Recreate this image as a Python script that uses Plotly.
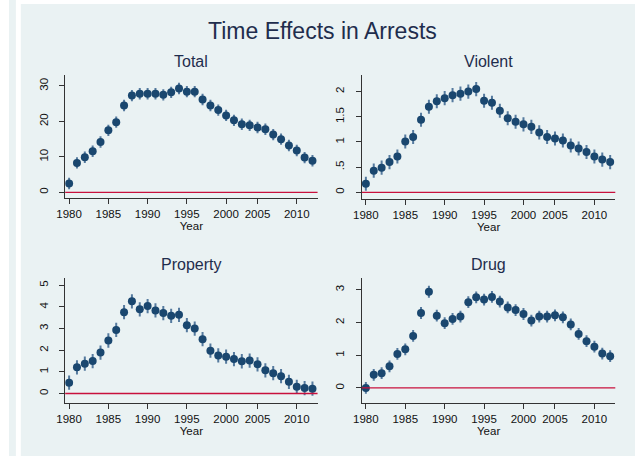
import plotly.graph_objects as go

# years in the panel (one year between 2000 and 2005 is absent from the series)
years = list(range(1980, 2003)) + list(range(2004, 2013))
tick_years = [1980, 1985, 1990, 1995, 2000, 2005, 2010]

total = [2.5, 8.3, 9.9, 11.6, 14.2, 17.5, 19.8, 24.5, 27.3, 27.8, 27.8, 27.8,
         27.5, 28.2, 29.3, 28.4, 28.4, 26.2, 24.5, 23.2, 21.7, 20.3, 19.2, 18.9,
         18.3, 17.8, 16.3, 15.0, 13.2, 11.8, 9.8, 8.9]
violent = [0.17, 0.43, 0.49, 0.60, 0.71, 1.01, 1.10, 1.44, 1.70, 1.81, 1.87, 1.93,
           1.96, 2.00, 2.05, 1.82, 1.78, 1.62, 1.47, 1.40, 1.35, 1.30, 1.19, 1.10,
           1.07, 1.03, 0.93, 0.87, 0.80, 0.71, 0.65, 0.60]
prop = [0.50, 1.21, 1.38, 1.50, 1.89, 2.45, 2.94, 3.76, 4.26, 3.89, 4.04, 3.84,
        3.72, 3.59, 3.64, 3.16, 3.00, 2.51, 1.98, 1.76, 1.70, 1.59, 1.49, 1.52,
        1.35, 1.07, 0.94, 0.80, 0.54, 0.31, 0.25, 0.22]
drug = [0.00, 0.40, 0.45, 0.66, 1.04, 1.18, 1.59, 2.29, 2.94, 2.21, 1.98, 2.11,
        2.18, 2.62, 2.77, 2.70, 2.78, 2.64, 2.46, 2.38, 2.26, 2.06, 2.18, 2.18,
        2.22, 2.16, 1.94, 1.65, 1.43, 1.26, 1.05, 0.97]

# half-width of the confidence spikes, per panel
ci = {"Total": 1.6, "Violent": 0.14, "Property": 0.33, "Drug": 0.18}

panels = [
    ("Total", total, [0, 10, 20, 30], ["0", "10", "20", "30"], [-1.6, 33.1]),
    ("Violent", violent, [0, 0.5, 1, 1.5, 2], ["0", ".5", "1", "1.5", "2"], [-0.133, 2.33]),
    ("Property", prop, [0, 1, 2, 3, 4, 5], ["0", "1", "2", "3", "4", "5"], [-0.44, 5.34]),
    ("Drug", drug, [0, 1, 2, 3], ["0", "1", "2", "3"], [-0.46, 3.36]),
]

W, H = 635, 456
boxes = [(57, 313, 75, 198), (358, 615, 75, 199), (57, 313, 278, 403), (358, 615, 278, 403)]

bg = "#eaf2f3"
navy = "#1a476f"
spike = "#557a9e"
axcol = "#333333"
font = "Liberation Sans, Arial, sans-serif"

xpos = list(range(len(years)))
tickpos = [years.index(y) for y in tick_years]

fig = go.Figure()
layout = {}
for k, (name, vals, yt, ytt, yr) in enumerate(panels):
    n = "" if k == 0 else str(k + 1)
    x0, x1, yt0, yb0 = boxes[k]
    fig.add_trace(go.Scatter(
        x=xpos, y=vals, mode="markers",
        marker=dict(color=navy, size=8),
        error_y=dict(type="constant", value=ci[name], color=spike, thickness=2, width=0),
        xaxis="x" + n, yaxis="y" + n, showlegend=False,
        hovertext=[str(y) for y in years],
    ))
    layout["xaxis" + n] = dict(
        domain=[x0 / W, x1 / W], anchor="y" + n, range=[-0.5, 31.65],
        tickvals=tickpos, ticktext=[str(y) for y in tick_years],
        showgrid=False, zeroline=False, showline=True, linecolor=axcol, linewidth=1,
        ticks="outside", ticklen=5, tickcolor=axcol,
        tickfont=dict(size=11.5, color="#111111", family=font),
        title=dict(text="Year", font=dict(size=11.5, color="#111111", family=font), standoff=1),
    )
    layout["yaxis" + n] = dict(
        domain=[1 - yb0 / H, 1 - yt0 / H], anchor="x" + n, range=yr,
        tickvals=yt, ticktext=ytt, tickangle=-90, ticklabelstandoff=7,
        showgrid=True, gridcolor=bg, gridwidth=1,
        zeroline=False, showline=True, linecolor=axcol, linewidth=1,
        ticks="outside", ticklen=5, tickcolor=axcol,
        tickfont=dict(size=11.5, color="#111111", family=font),
    )
    fig.add_shape(type="line", xref="x" + n + " domain", yref="y" + n,
                  x0=0, x1=1, y0=0, y1=0, line=dict(color="#c8103c", width=1.3))

# subplot titles
title_y = [62, 62, 264, 264]
annotations = []
for k, (name, *_rest) in enumerate(panels):
    x0, x1, _, _ = boxes[k]
    annotations.append(dict(
        text=name, x=(x0 + x1) / 2 / W, y=1 - title_y[k] / H, xref="paper", yref="paper",
        showarrow=False, xanchor="center", yanchor="middle",
        font=dict(size=16, color="#1f2d4d", family=font),
    ))
annotations.append(dict(
    text="Time Effects in Arrests", x=0.5, y=1 - 31 / H, xref="paper", yref="paper",
    showarrow=False, xanchor="center", yanchor="middle",
    font=dict(size=23, color="#1f2d4d", family=font),
))

# Stata-style background panels
shapes = [
    dict(type="rect", xref="paper", yref="paper", x0=0, x1=7 / W, y0=0, y1=1,
         fillcolor=bg, line=dict(width=0), layer="below"),
    dict(type="rect", xref="paper", yref="paper", x0=12 / W, x1=1, y0=0, y1=1 - 4 / H,
         fillcolor=bg, line=dict(width=0), layer="below"),
]
for s in shapes:
    fig.add_shape(**s)

fig.update_layout(
    width=W, height=H, margin=dict(l=0, r=0, t=0, b=0),
    paper_bgcolor="white", plot_bgcolor="white",
    annotations=annotations,
    **layout,
)

fig.write_html("out.html", config={"displayModeBar": False},
               post_script="document.body.style.margin='0';"
                           "document.body.style.overflow='hidden';"
                           "document.documentElement.style.overflow='hidden';")
